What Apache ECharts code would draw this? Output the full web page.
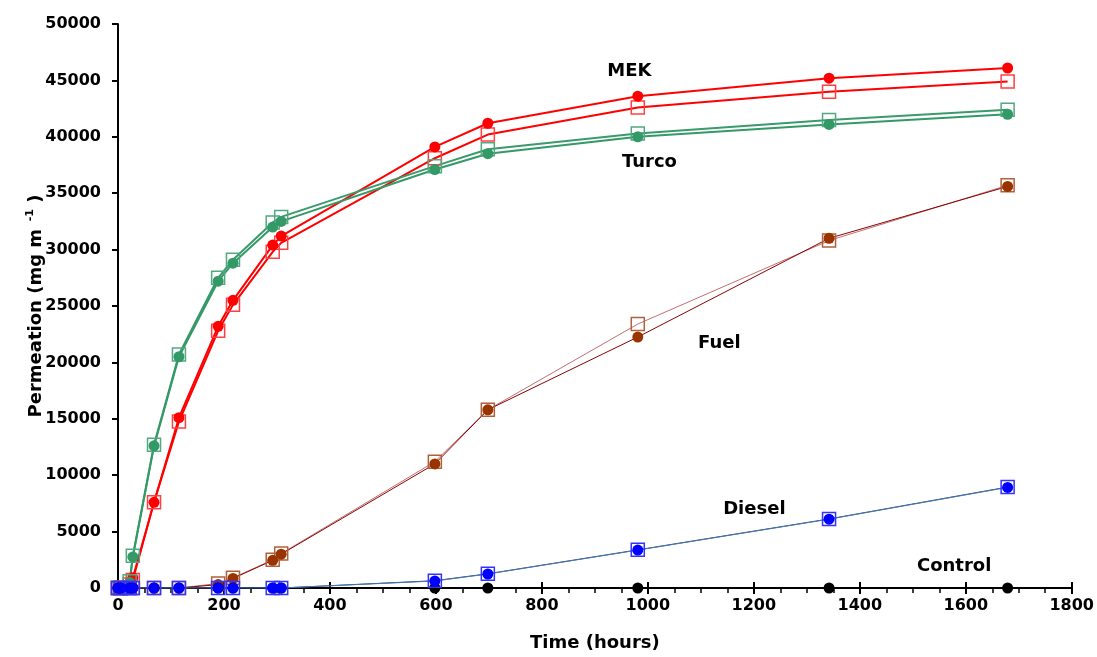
<!DOCTYPE html>
<html>
<head>
<meta charset="utf-8">
<script src="https://cdn.jsdelivr.net/npm/echarts@6/dist/echarts.min.js"></script>
<style>
html,body{margin:0;padding:0;background:#fff;}
#chart{width:1097px;height:657px;}
</style>
</head>
<body>
<div id="chart"></div>
<script>
// Time (hours) of each measurement
var times = [0, 5, 22, 28, 68, 115, 189, 217, 292, 308, 598, 698, 981, 1342, 1679];
var mekFilled   = [0, 0, 200, 900, 7600, 15100, 23200, 25500, 30400, 31200, 39100, 41200, 43600, 45200, 46100];
var mekOpen     = [0, 0, 300, 700, 7600, 14750, 22800, 25100, 29800, 30600, 38100, 40200, 42600, 44000, 44900];
var turcoFilled = [0, 0, 500, 2750, 12600, 20500, 27200, 28800, 32000, 32500, 37100, 38500, 40000, 41100, 42000];
var turcoOpen   = [0, 0, 600, 2850, 12700, 20700, 27500, 29100, 32400, 32900, 37400, 38900, 40300, 41500, 42400];
var fuelFilled  = [0, 0, 0, 0, 0, 0, 300, 850, 2450, 3000, 11000, 15800, 22250, 31000, 35600];
var fuelOpen    = [0, 0, 0, 0, 0, 0, 400, 900, 2500, 3050, 11200, 15800, 23400, 30800, 35700];
var dieselFilled= [0, 0, 0, 0, 0, 0, 0, 0, 0, 0, 620, 1240, 3360, 6100, 8920];
var dieselOpen  = [0, 0, 0, 0, 0, 0, 0, 0, 0, 0, 650, 1260, 3380, 6120, 8950];
var control     = [0, 0, 0, 0, 0, 0, 0, 0, 0, 0, 0, 0, 0, 0, 0];
var xTicks = [0, 200, 400, 600, 800, 1000, 1200, 1400, 1600, 1800];
var yTicks = [0, 5000, 10000, 15000, 20000, 25000, 30000, 35000, 40000, 45000, 50000];
var labelNames = ['MEK', 'Turco', 'Fuel', 'Diesel', 'Control'];
var labelX = [966, 1004, 1136, 1202, 1579];
var labelY = [45760, 37720, 21640, 6890, 1855];

function pairs(vals){ return times.map(function(t,i){ return [t, vals[i]]; }); }

var FONT = 'DejaVu Sans';
function filled(name, vals, color, lineColor, lineWidth){
  return {name:name, type:'line', data:pairs(vals), symbol:'circle', symbolSize:11,
    itemStyle:{color:color}, lineStyle:{color:lineColor, width:lineWidth}, silent:true};
}
function open(name, vals, border, lineColor, lineWidth){
  return {name:name, type:'line', data:pairs(vals), symbol:'rect', symbolSize:13,
    itemStyle:{color:'rgba(255,255,255,0)', borderColor:border, borderWidth:1.5},
    lineStyle:{color:lineColor, width:lineWidth}, silent:true};
}
function plain(v){ return String(v); }

var chart = echarts.init(document.getElementById('chart'), null, {renderer:'canvas'});
var option = {
  animation:false,
  backgroundColor:'#ffffff',
  grid:{left:118, right:25, top:24, bottom:67},
  xAxis:[{
    type:'value', min:xTicks[0], max:xTicks[xTicks.length-1], interval:200,
    name:'Time (hours)', nameLocation:'middle', nameGap:46, nameMoveOverlap:false,
    nameTextStyle:{fontFamily:FONT, fontWeight:'bold', fontSize:18, color:'#000'},
    axisLine:{show:true, onZero:false, lineStyle:{color:'#000', width:2}},
    axisTick:{show:true, length:6, lineStyle:{color:'#000', width:2}},
    minorTick:{show:true, splitNumber:4, length:5, lineStyle:{color:'#000', width:1.5}},
    axisLabel:{fontFamily:FONT, fontWeight:'bold', fontSize:16, color:'#000', margin:10, formatter:plain},
    splitLine:{show:false}
  },{
    type:'value', min:xTicks[0], max:xTicks[xTicks.length-1], interval:200, position:'bottom',
    axisLine:{show:false}, axisTick:{show:true, inside:true, length:6, lineStyle:{color:'#000', width:2}},
    axisLabel:{show:false}, splitLine:{show:false}
  }],
  yAxis:{
    type:'value', min:yTicks[0], max:yTicks[yTicks.length-1], interval:5000,
    name:'Permeation (mg m{sup|  -1} )', nameLocation:'middle', nameGap:70, nameMoveOverlap:false,
    nameTextStyle:{fontFamily:FONT, fontWeight:'bold', fontSize:18, color:'#000',
      rich:{sup:{fontFamily:FONT, fontWeight:'bold', fontSize:11, color:'#000', padding:[0,0,12,0]}}},
    axisLine:{show:true, onZero:false, lineStyle:{color:'#000', width:2}},
    axisTick:{show:true, length:6, lineStyle:{color:'#000', width:2}},
    axisLabel:{fontFamily:FONT, fontWeight:'bold', fontSize:16, color:'#000', margin:17, formatter:plain},
    splitLine:{show:false}
  },
  series:[
    open('MEK open', mekOpen, '#ff4040', '#ff0000', 2),
    filled('MEK', mekFilled, '#ff0000', '#ff0000', 2),
    open('Turco open', turcoOpen, '#52a880', '#3a9a6c', 2),
    filled('Turco', turcoFilled, '#339966', '#339966', 2),
    open('Fuel open', fuelOpen, '#b0603a', '#c07070', 1),
    filled('Fuel', fuelFilled, '#993300', '#8b0000', 1),
    filled('Control', control, '#000000', '#000000', 2),
    open('Diesel open', dieselOpen, '#3333ff', '#1f3f7f', 1),
    filled('Diesel', dieselFilled, '#0000ff', '#4a7aaa', 1),
    {
      type:'scatter', silent:true, symbolSize:1, itemStyle:{color:'rgba(0,0,0,0)'},
      data: labelNames.map(function(n,i){ return {name:n, value:[labelX[i], labelY[i]]}; }),
      label:{show:true, position:[0,0], align:'center', verticalAlign:'middle', formatter:'{b}',
        fontFamily:FONT, fontWeight:'bold', fontSize:18, color:'#000000', textBorderWidth:0, opacity:1}
    }
  ]
};
chart.setOption(option);
</script>
</body>
</html>
